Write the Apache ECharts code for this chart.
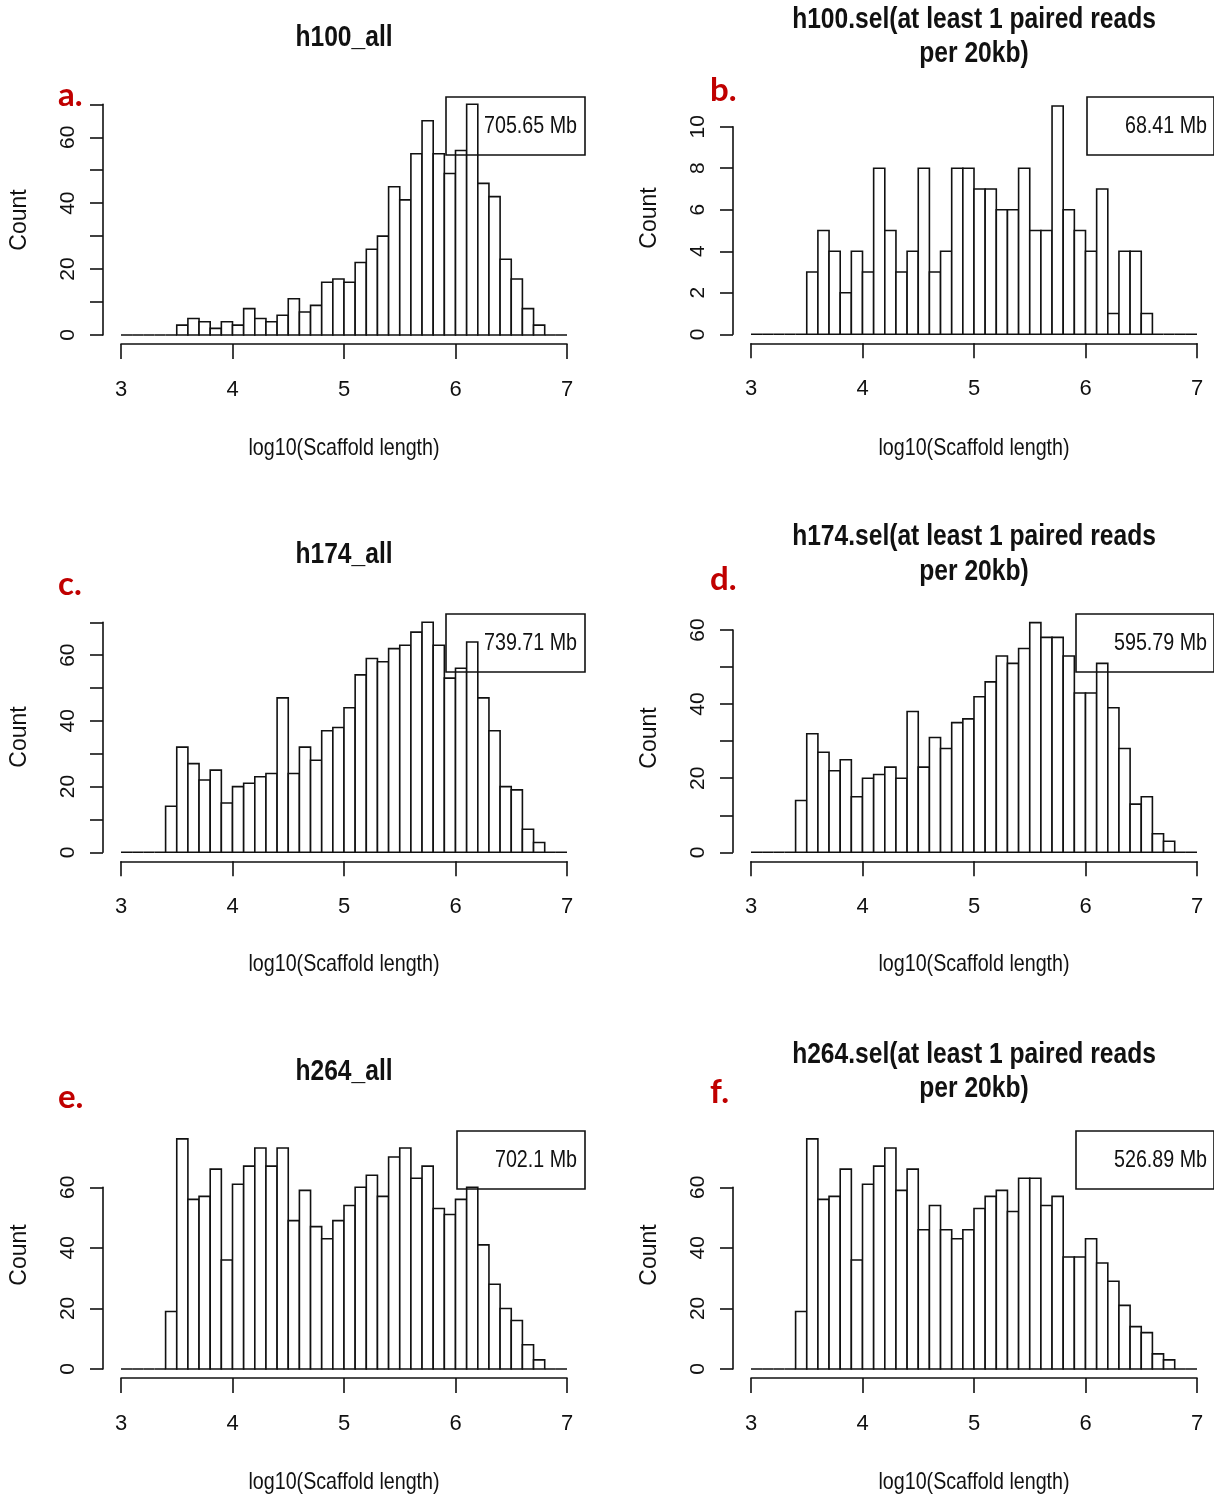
<!DOCTYPE html>
<html>
<head>
<meta charset="utf-8">
<script src="https://cdn.jsdelivr.net/npm/echarts@6/dist/echarts.min.js"></script>
<style>
html,body{margin:0;padding:0;background:#fff;}
#chart{width:1214px;height:1496px;}
</style>
</head>
<body>
<div id="chart"></div>
<script>
// ---------------- DATA ----------------
const binStarts = [3.0,3.1,3.2,3.3,3.4,3.5,3.6,3.7,3.8,3.9,
                   4.0,4.1,4.2,4.3,4.4,4.5,4.6,4.7,4.8,4.9,
                   5.0,5.1,5.2,5.3,5.4,5.5,5.6,5.7,5.8,5.9,
                   6.0,6.1,6.2,6.3,6.4,6.5,6.6,6.7,6.8,6.9];
const binWidth = 0.1;
const xTickValues = [3, 4, 5, 6, 7];

const h100All = [0,0,0,0,0,3,5,4,2,4, 3,8,5,4,6,11,7,9,16,17, 16,22,26,30,45,41,55,65,55,49, 56,70,46,42,23,17,8,3,0,0];
const h100Sel = [0,0,0,0,0,3,5,4,2,4, 3,8,5,3,4,8,3,4,8,8, 7,7,6,6,8,5,5,11,6,5, 4,7,1,4,4,1,0,0,0,0];
const h174All = [0,0,0,0,14,32,27,22,25,15, 20,21,23,24,47,24,32,28,37,38, 44,54,59,58,62,63,67,70,63,53, 56,64,47,37,20,19,7,3,0,0];
const h174Sel = [0,0,0,0,14,32,27,22,25,15, 20,21,23,20,38,23,31,28,35,36, 42,46,53,51,55,62,58,58,53,43, 43,51,39,28,13,15,5,3,0,0];
const h264All = [0,0,0,0,19,76,56,57,66,36, 61,67,73,67,73,49,59,47,43,49, 54,60,64,57,70,73,63,67,53,51, 56,60,41,28,20,16,8,3,0,0];
const h264Sel = [0,0,0,0,19,76,56,57,66,36, 61,67,73,59,66,46,54,46,43,46, 53,57,59,52,63,63,54,57,37,37, 43,35,29,21,14,12,5,3,0,0];

const panelCounts = [h100All, h100Sel, h174All, h174Sel, h264All, h264Sel];
const panelTitles = [
  ["h100_all"],
  ["h100.sel(at least 1 paired reads", "per 20kb)"],
  ["h174_all"],
  ["h174.sel(at least 1 paired reads", "per 20kb)"],
  ["h264_all"],
  ["h264.sel(at least 1 paired reads", "per 20kb)"]
];
const panelTotals = ["705.65 Mb", "68.41 Mb", "739.71 Mb", "595.79 Mb", "702.1 Mb", "526.89 Mb"];
const panelLetters = ["a.", "b.", "c.", "d.", "e.", "f."];
const yMaxValues = [70, 10, 70, 60, 60, 60];
const yTickSteps = [10, 2, 10, 10, 20, 20];
const yLabelSteps = [20, 2, 20, 20, 20, 20];
const xAxisTitle = "log10(Scaffold length)";
const yAxisTitle = "Count";

// ---------------- LAYOUT (positions / styles) ----------------
const REG = "'Liberation Sans', Arial, sans-serif";
const NARROW_SCALE = 0.82;
const colX = [121, 751];
const plotW = 446;
const layout = [
  {col:0, top:104.3, h:230.7, titleY:[38],       letterY:95,   countY:220,  xlabY:448,  box:[446,97,139,58]},
  {col:1, top:126.7, h:207.6, titleY:[20,54],    letterY:90,   countY:218,  xlabY:448,  box:[1087,97,127,58]},
  {col:0, top:622.3, h:230.0, titleY:[555],      letterY:584,  countY:737,  xlabY:964,  box:[446,614,139,58]},
  {col:1, top:630.0, h:222.3, titleY:[537,572],  letterY:579,  countY:738,  xlabY:964,  box:[1076,614,138,58]},
  {col:0, top:1187.3,h:181.7, titleY:[1072],     letterY:1097, countY:1255, xlabY:1482, box:[457,1131,128,58]},
  {col:1, top:1187.3,h:181.7, titleY:[1055,1089],letterY:1092, countY:1255, xlabY:1482, box:[1076,1131,138,58]}
];

const grids = [], xAxes = [], yAxes = [], series = [], graphics = [];

layout.forEach((L, i) => {
  const left = colX[L.col];
  grids.push({left: left, top: L.top, width: plotW, height: L.h, containLabel: false});
  xAxes.push({
    gridIndex: i, type: 'value', min: xTickValues[0], max: xTickValues[xTickValues.length-1], interval: 1,
    offset: 9,
    axisLine: {show: true, onZero: false, lineStyle: {color: '#111', width: 1.6}},
    axisTick: {show: true, length: 15, lineStyle: {color: '#111', width: 1.6}},
    axisLabel: {show: true, color: '#111', fontSize: 22, fontFamily: REG, margin: 46, verticalAlign: 'middle'},
    splitLine: {show: false}
  });
  const step = yLabelSteps[i];
  yAxes.push({
    gridIndex: i, type: 'value', min: 0, max: yMaxValues[i], interval: yTickSteps[i],
    offset: 18,
    axisLine: {show: true, lineStyle: {color: '#111', width: 1.6}},
    axisTick: {show: true, length: 13, lineStyle: {color: '#111', width: 1.6}},
    axisLabel: {show: true, color: '#111', fontSize: 21, fontFamily: REG, rotate: 90, align: 'center',
                verticalAlign: 'middle', margin: 35,
                formatter: v => (v % step === 0 ? String(v) : '')},
    splitLine: {show: false}
  });
  const counts = panelCounts[i];
  series.push({
    type: 'custom', xAxisIndex: i, yAxisIndex: i, clip: false,
    data: binStarts.map((b, k) => [b, counts[k]]),
    encode: {x: 0, y: 1},
    renderItem: function (params, api) {
      const x0 = api.value(0), c = api.value(1);
      const p0 = api.coord([x0, 0]);
      const p1 = api.coord([x0 + binWidth, c]);
      return {
        type: 'rect',
        shape: {x: p0[0], y: p1[1], width: p1[0] - p0[0], height: p0[1] - p1[1]},
        style: {fill: '#fff', stroke: '#111', lineWidth: 1.6}
      };
    }
  });

  const cx = left + plotW / 2;
  // titles (condensed look via horizontal scale)
  panelTitles[i].forEach((t, k) => {
    graphics.push({type: 'text', x: cx, y: L.titleY[k], scaleX: NARROW_SCALE, z: 100,
      style: {text: t, fill: '#111', fontSize: 30, fontWeight: 'bold', fontFamily: REG,
              align: 'center', verticalAlign: 'middle'}});
  });
  // panel letter
  graphics.push({type: 'text', x: L.col === 0 ? 58 : 710, y: L.letterY, z: 100,
    style: {text: panelLetters[i], fill: '#c00000', fontSize: 33, fontWeight: 'bold', fontFamily: "Lato, 'Open Sans', sans-serif",
            align: 'left', verticalAlign: 'middle'}});
  // Count label
  graphics.push({type: 'text', x: L.col === 0 ? 20 : 650, y: L.countY, rotation: Math.PI / 2, z: 100,
    style: {text: yAxisTitle, fill: '#111', fontSize: 23, fontFamily: REG, align: 'center', verticalAlign: 'middle'}});
  // x axis title
  graphics.push({type: 'text', x: cx, y: L.xlabY, scaleX: NARROW_SCALE, z: 100,
    style: {text: xAxisTitle, fill: '#111', fontSize: 24, fontFamily: REG, align: 'center', verticalAlign: 'middle'}});
  // legend box
  const b = L.box;
  graphics.push({type: 'rect', z: 100, shape: {x: b[0], y: b[1], width: b[2], height: b[3]},
    style: {fill: 'none', stroke: '#111', lineWidth: 1.6}});
  graphics.push({type: 'text', z: 100, x: (L.col === 0 ? 577 : 1207), y: b[1] + b[3] / 2, scaleX: NARROW_SCALE,
    style: {text: panelTotals[i], fill: '#111', fontSize: 24, fontFamily: REG, align: 'right', verticalAlign: 'middle'}});
});

const chart = echarts.init(document.getElementById('chart'), null, {renderer: 'canvas'});
chart.setOption({
  backgroundColor: '#fff',
  animation: false,
  grid: grids,
  xAxis: xAxes,
  yAxis: yAxes,
  series: series,
  graphic: {elements: graphics}
});
</script>
</body>
</html>
